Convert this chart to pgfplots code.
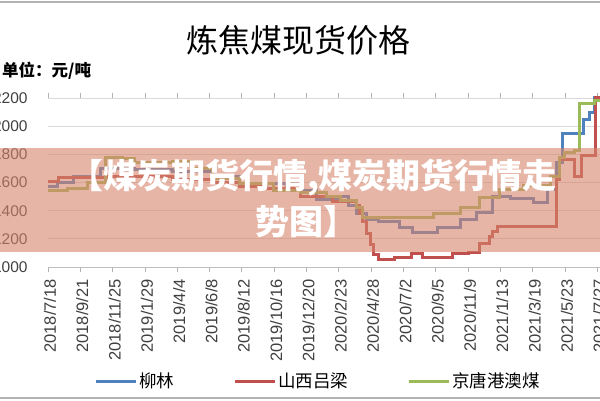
\documentclass[border=0pt]{standalone}
\usepackage{pgfplots}
\pgfplotsset{compat=1.18}
\usepackage{fontspec}
\setmainfont{Liberation Sans}
\newfontfamily\cjk{Noto Sans CJK SC}
\definecolor{cblue}{RGB}{79,129,189}
\definecolor{cred}{RGB}{192,80,77}
\definecolor{cgreen}{RGB}{155,187,89}
\definecolor{bandc}{RGB}{215,132,108}
\definecolor{gridc}{RGB}{217,217,217}
\definecolor{labc}{RGB}{64,64,64}
\begin{document}
\begin{tikzpicture}[x=1pt,y=1pt]
\fill[white] (0,0) rectangle (600,400);
\begin{axis}[
  at={(47.5pt,133pt)}, anchor=south west, scale only axis,
  width=554.7pt, height=169pt,
  xmin=-1, xmax=1115, ymin=1000, ymax=2200,
  clip=false,
  axis line style={draw=none},
  ymajorgrids, grid style={gridc, line width=1pt},
  ytick={1000,1200,...,2200},
  ytick style={draw=none},
  yticklabel style={font=\fontsize{15.5}{16}\selectfont, text=labc, anchor=east, inner sep=0pt, xshift=-14.8pt},
  /pgf/number format/1000 sep={},
  /pgf/number format/assume math mode=true,
  xtick={0,65,...,1105},
  xticklabels={2018/7/18,2018/9/21,2018/11/25,2019/1/29,2019/4/4,2019/6/8,2019/8/12,2019/10/16,2019/12/20,2020/2/23,2020/4/28,2020/7/2,2020/9/5,2020/11/9,2021/1/13,2021/3/19,2021/5/23,2021/7/27},
  xtick style={gray!60, line width=0.8pt},
  tick align=outside, major tick length=5pt,
  xticklabel style={rotate=90, anchor=east, font=\fontsize{16.5}{17}\selectfont, text=labc, inner sep=0pt, xshift=-7pt, yshift=-2pt},
  legend columns=3,
  legend style={at={(0.0856,-0.6746)}, anchor=west, draw=none, fill=none, inner sep=0pt, outer sep=0pt,
    font=\cjk\fontsize{17.5}{19}\selectfont,
    /tikz/every even column/.append style={column sep=58pt},
    nodes={inner sep=1.5pt}},
  legend image code/.code={\draw[line width=3pt] (0pt,0pt) -- (40pt,0pt);},
]
\draw[gray!50, line width=0.8pt] (rel axis cs:0,0) -- (rel axis cs:1,0);
% 柳林
\addplot[const plot, cblue, line width=3pt] coordinates {
(0,1575) (20,1600) (52,1640) (105,1700) (175,1690) (250,1680) (330,1640) (400,1590) (480,1540) (540,1480) (588,1500) (605,1440) (620,1380) (640,1340) (664,1320) (708,1284) (734,1245) (783,1280) (829,1335) (863,1390) (895,1500) (930,1485) (976,1455) (1004,1547) (1024,1740) (1036,1950) (1078,2044) (1090,2100) (1100,2205) (1115,2205)
};
\addlegendentry{柳林}
% 山西吕梁
\addplot[const plot, cred, line width=3pt] coordinates {
(0,1605) (22,1632) (120,1645) (250,1620) (330,1600) (386,1575) (440,1560) (507,1500) (573,1465) (620,1440) (626,1380) (632,1320) (640,1240) (648,1160) (655,1090) (664,1050) (698,1071) (732,1099) (753,1071) (813,1099) (845,1106) (869,1168) (889,1215) (895,1251) (905,1286) (1024,1618) (1030,1760) (1060,1641) (1074,1795) (1102,2205) (1115,2205)
};
\addlegendentry{山西吕梁}
% 京唐港澳煤
\addplot[const plot, cgreen, line width=3pt] coordinates {
(0,1545) (40,1560) (80,1600) (115,1780) (150,1770) (175,1740) (250,1750) (290,1700) (330,1630) (386,1590) (453,1540) (507,1530) (560,1500) (588,1475) (605,1475) (620,1420) (632,1355) (738,1355) (775,1383) (829,1419) (869,1490) (909,1547) (956,1582) (1010,1640) (1030,1780) (1040,1810) (1060,1830) (1070,2163) (1100,2185) (1115,2185)
};
\addlegendentry{京唐港澳煤}
\end{axis}
% overlay band and texts
\fill[bandc, opacity=0.6] (0,148) rectangle (600,252);
\node[white, font=\cjk\bfseries\fontsize{34}{36}\selectfont, inner sep=0] at (313,222) {【煤炭期货行情,煤炭期货行情走};
\node[white, font=\cjk\bfseries\fontsize{34}{36}\selectfont, inner sep=0] at (306,178) {势图】};
\node[font=\cjk\fontsize{32}{36}\selectfont, inner sep=0] at (298,360) {炼焦煤现货价格};
\node[anchor=west, font=\cjk\bfseries\fontsize{16.5}{18}\selectfont, inner sep=0] at (2,329) {单位：元/吨};
\draw[gray!60, line width=2pt] (0,398) -- (600,398);
\draw[gray!60, line width=2pt] (0,2) -- (600,2);
\pgfresetboundingbox
\path[use as bounding box] (0,0) rectangle (600,400);
\end{tikzpicture}
\end{document}
